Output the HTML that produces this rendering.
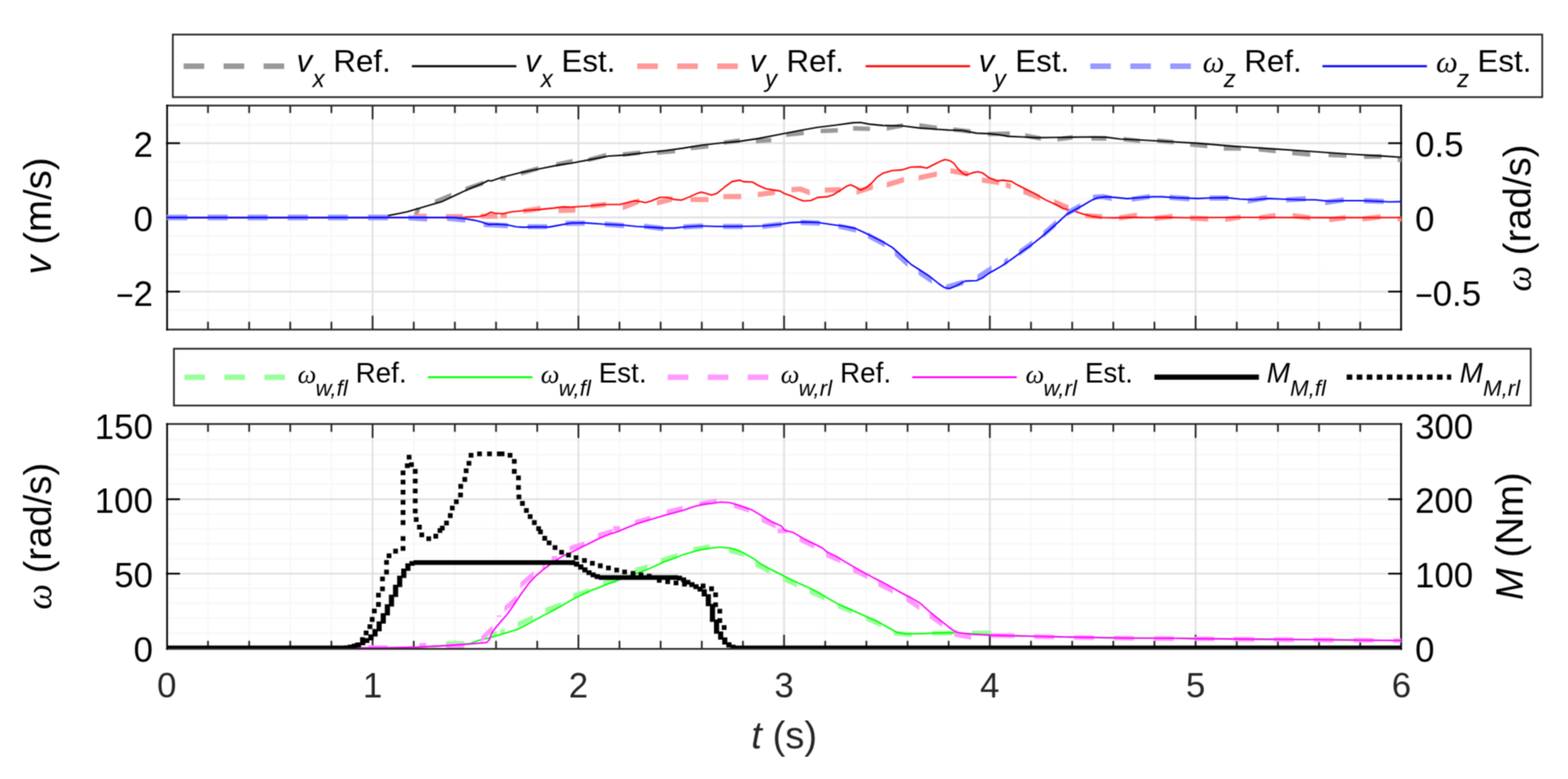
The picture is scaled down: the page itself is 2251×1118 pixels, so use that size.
<!DOCTYPE html>
<html lang="en"><head><meta charset="utf-8"><title>Vehicle state estimation plot</title>
<style>html,body{margin:0;padding:0;background:#fff;overflow:hidden}svg{display:block}text{font-family:"Liberation Sans",Arial,Helvetica,sans-serif;white-space:pre}.i{font-style:italic}.w{font-family:"Liberation Serif","DejaVu Serif",serif;font-style:italic}</style></head><body>
<svg xmlns="http://www.w3.org/2000/svg" width="2251" height="1118" viewBox="0 0 2251 1118">
<filter id="soft" x="0" y="0" width="2251" height="1118" filterUnits="userSpaceOnUse" color-interpolation-filters="sRGB"><feConvolveMatrix order="3" kernelMatrix="1 2 1 2 4 2 1 2 1" divisor="16" edgeMode="duplicate" preserveAlpha="true"/></filter>
<g filter="url(#soft)">
<rect width="2251" height="1118" fill="#fff"/>
<defs><clipPath id="c1"><rect x="239.5" y="152.2" width="1772.3" height="319.7"/></clipPath><clipPath id="c2"><rect x="239.5" y="609.6" width="1772.3" height="320.4"/></clipPath></defs>
<path d="M298.6 151.6V473M357.7 151.6V473M416.7 151.6V473M475.8 151.6V473M594 151.6V473M653 151.6V473M712.1 151.6V473M771.2 151.6V473M889.3 151.6V473M948.4 151.6V473M1007.5 151.6V473M1066.6 151.6V473M1184.7 151.6V473M1243.8 151.6V473M1302.9 151.6V473M1361.9 151.6V473M1480.1 151.6V473M1539.2 151.6V473M1598.2 151.6V473M1657.3 151.6V473M1775.5 151.6V473M1834.6 151.6V473M1893.6 151.6V473M1952.7 151.6V473M239.9 178.9H2011.4M239.9 232.1H2011.4M239.9 258.8H2011.4M239.9 285.4H2011.4M239.9 338.7H2011.4M239.9 365.3H2011.4M239.9 392H2011.4M239.9 445.2H2011.4" stroke="#f8f8f8" stroke-width="2.5" fill="none"/>
<path d="M534.9 151.6V473M830.3 151.6V473M1125.6 151.6V473M1421 151.6V473M1716.4 151.6V473M239.9 205.5H2011.4M239.9 312.1H2011.4M239.9 418.6H2011.4" stroke="#e0e0e0" stroke-width="2.5" fill="none"/>
<path d="M298.6 152.2v8.9M298.6 471.9v-8.9M357.7 152.2v8.9M357.7 471.9v-8.9M416.7 152.2v8.9M416.7 471.9v-8.9M475.8 152.2v8.9M475.8 471.9v-8.9M534.9 152.2v17.7M534.9 471.9v-17.7M594 152.2v8.9M594 471.9v-8.9M653 152.2v8.9M653 471.9v-8.9M712.1 152.2v8.9M712.1 471.9v-8.9M771.2 152.2v8.9M771.2 471.9v-8.9M830.3 152.2v17.7M830.3 471.9v-17.7M889.3 152.2v8.9M889.3 471.9v-8.9M948.4 152.2v8.9M948.4 471.9v-8.9M1007.5 152.2v8.9M1007.5 471.9v-8.9M1066.6 152.2v8.9M1066.6 471.9v-8.9M1125.6 152.2v17.7M1125.6 471.9v-17.7M1184.7 152.2v8.9M1184.7 471.9v-8.9M1243.8 152.2v8.9M1243.8 471.9v-8.9M1302.9 152.2v8.9M1302.9 471.9v-8.9M1361.9 152.2v8.9M1361.9 471.9v-8.9M1421 152.2v17.7M1421 471.9v-17.7M1480.1 152.2v8.9M1480.1 471.9v-8.9M1539.2 152.2v8.9M1539.2 471.9v-8.9M1598.2 152.2v8.9M1598.2 471.9v-8.9M1657.3 152.2v8.9M1657.3 471.9v-8.9M1716.4 152.2v17.7M1716.4 471.9v-17.7M1775.5 152.2v8.9M1775.5 471.9v-8.9M1834.6 152.2v8.9M1834.6 471.9v-8.9M1893.6 152.2v8.9M1893.6 471.9v-8.9M1952.7 152.2v8.9M1952.7 471.9v-8.9" stroke="#262626" stroke-width="2.5" fill="none" stroke-linecap="square"/>
<path d="M239.9 151.6H2011.4M239.9 473H2011.4" stroke="#262626" stroke-width="2.5" fill="none" stroke-linecap="square"/>
<path d="M239.9 151.6V473M2011.4 151.6V473M239.5 205.5h17.7M2011.8 205.5h-17.7M239.5 418.6h17.7M2011.8 418.6h-17.7" stroke="#000" stroke-width="2.5" fill="none" stroke-linecap="square"/>
<g clip-path="url(#c1)">
<path d="M593.3 310L597.8 298L604.2 298L599.7 310ZM624.2 286.5L647.8 276.8L647.8 283.8L624.2 293.5ZM668 268.3L693.8 259.2L693.8 266L668 275.1ZM718.5 252.9L726 252.9L726 259.3L718.5 259.3ZM748 245.4L772.7 238.4L772.7 245L748 252ZM798.4 233L822 227.9L822 234.5L798.4 239.6ZM844.5 226.2L870.2 219.5L870.2 226.1L844.5 232.8ZM894.1 218.6L919.3 215.9L919.3 222.3L894.1 225ZM943.2 215.9L969.2 213.7L969.2 220.1L943.2 222.3ZM991.7 209.4L1017 206.7L1017 213.1L991.7 215.8ZM1039 201.4L1062 198.5L1062 204.9L1039 207.8ZM1085.2 199.4L1107.2 197.8L1107.2 204.2L1085.2 205.8ZM1128.7 190.2L1153.9 187.6L1153.9 194L1128.7 196.6ZM1178.1 184.9L1202.7 183.8L1202.7 190.2L1178.1 191.3ZM1224.8 181.1L1248.9 181.7L1248.9 188.1L1224.8 187.5ZM1273 181L1296.1 176.7L1296.1 183.3L1273 187.6ZM1319.9 176.8L1345.1 180.6L1345.1 187L1319.9 183.2ZM1368.7 182.7L1393.4 185.6L1393.4 192L1368.7 189.1ZM1418.1 189.2L1449.7 188.6L1449.7 195L1418.1 195.6ZM1471.7 191.2L1494.3 195.5L1494.3 202.1L1471.7 197.8ZM1517.9 196.7L1540 193.8L1540 200.2L1517.9 203.1ZM1566.8 195.3L1588.4 195.6L1588.4 202L1566.8 201.7ZM1613 196.5L1636.6 199.2L1636.6 205.6L1613 202.9ZM1661.3 198.6L1684.9 200.8L1684.9 207.2L1661.3 205ZM1708.5 204L1733.2 206.3L1733.2 212.7L1708.5 210.4ZM1756.8 209.8L1781.5 209.8L1781.5 216.2L1756.8 216.2ZM1806.8 211L1831.5 213.7L1831.5 220.1L1806.8 217.4ZM1855.1 216.3L1880.9 218.5L1880.9 224.9L1855.1 222.7ZM1907.2 219L1933 220.1L1933 226.5L1907.2 225.4ZM1958.2 221.7L1983.4 221.3L1983.4 227.7L1958.2 228.1ZM2006.5 226L2011.8 226.3L2011.8 232.7L2006.5 232.4Z" fill="#999"/>
<polyline points="239.5,312.1 535,312.1 548,311.2 557.6,309.4 571,306.7 584.4,304 600.5,299.3 616.6,294.6 634,289.6 654.2,280 674.3,270.6 691.7,263.7 701.1,259 705.2,259.8 721.3,254.3 748.1,247.6 774.9,242.3 801.8,236.9 820,234.3 846.8,229.1 873.7,224 900.5,222.4 927.3,219 954.2,216.2 981,212.6 1007.8,208.3 1034.7,205.2 1061.5,202.9 1088.3,198.9 1120,192.7 1146.8,187.5 1173.7,182.8 1200.5,179.5 1224.7,176.1 1235.4,175.8 1247.5,178.1 1267.6,180.1 1294.4,180.5 1321.3,183.9 1348.1,185.8 1361.5,186.6 1381.6,187.2 1401.8,191.1 1420,191.9 1433.4,193.3 1446.8,195.6 1467,196.5 1487.1,197.6 1513.9,197.3 1540.8,196.9 1567.6,196.5 1587.7,196.9 1607.8,199.5 1634.7,200.8 1661.5,202.2 1688.3,203.7 1720,205.6 1773.7,210.1 1827.3,213.6 1881,217.3 1934.7,221 1988.3,224.1 2011.8,225.8" stroke="#000" stroke-width="2.1" fill="none" stroke-linejoin="round" />
<path d="M594 306.7L612.7 306.7L612.7 314.1L594 314.1ZM640.1 307.2L664.3 307.2L664.3 314.6L640.1 314.6ZM690.5 306.6L714.2 306.6L714.2 314L690.5 314ZM718.5 305.9L727.6 305.9L727.6 313.3L718.5 313.3ZM751.2 299.2L775.9 295.4L775.9 302.8L751.2 306.6ZM801.6 298.3L826 297.8L826 305.2L801.6 305.7ZM848.1 291.9L869.9 289.7L869.9 297.1L848.1 299.3ZM894.1 293.7L917.7 284.6L917.7 292.6L894.1 301.7ZM943.2 287.5L965.4 281.6L965.4 289.2L943.2 295.1ZM991.2 282.7L1017 282.7L1017 290.1L991.2 290.1ZM1038.4 278.4L1064 278.3L1064 285.7L1038.4 285.8ZM1087.9 275.6L1112.6 272.4L1112.6 279.8L1087.9 283ZM1136.2 268.6L1149.1 267.6L1149.1 275L1136.2 276ZM1149.1 267.3L1162.5 272.6L1162.5 280.6L1149.1 275.3ZM1184 269.2L1207 268.6L1207 276L1184 276.6ZM1229.6 271.7L1253.2 264.1L1253.2 271.9L1229.6 279.5ZM1273 261.5L1297.7 253.9L1297.7 261.7L1273 269.3ZM1318.8 251.4L1345.1 246L1345.1 253.6L1318.8 259ZM1364.4 241.2L1390.2 246L1390.2 253.6L1364.4 248.8ZM1409.5 254.7L1434.2 258.4L1434.2 265.8L1409.5 262.1ZM1443.8 261.6L1451.3 263.7L1451.3 271.3L1443.8 269.2ZM1469 270.5L1493.2 280.1L1493.2 288.1L1469 278.5ZM1513.3 285.8L1534 294.5L1534 302.5L1513.3 293.8ZM1558.2 305.8L1582.4 307.4L1582.4 314.8L1558.2 313.2ZM1606.5 309L1632.3 305.2L1632.3 312.6L1606.5 316.4ZM1657.5 309.5L1683.3 306.9L1683.3 314.3L1657.5 316.9ZM1708.5 309L1734.3 310.6L1734.3 318L1708.5 316.4ZM1759 311.1L1781 307.9L1781 315.3L1759 318.5ZM1807.4 309L1831 305.8L1831 313.2L1807.4 316.4ZM1855.7 305.8L1880.9 309L1880.9 316.4L1855.7 313.2ZM1908.3 311.7L1931.9 308.5L1931.9 315.9L1908.3 319.1ZM1956 310.6L1981.8 307.4L1981.8 314.8L1956 318ZM2006.5 310.6L2011.8 310.6L2011.8 318L2006.5 318Z" fill="#f99"/>
<polyline points="239.5,312.1 640,312.1 667.6,311.6 687.7,310.7 697.1,308.7 704.5,304.4 710.5,306 721.3,306.7 734.7,304 754.8,302 774.9,300.6 795,298.6 808.5,296.9 820,297.2 846.8,295.5 867,293.5 889.8,293.5 900.5,290.8 911.2,288.1 920.6,289.5 926.7,290.8 934,288.8 947.5,283.2 958.2,283.2 968.9,286.4 978.3,287.2 987.7,283.4 999.8,278.1 1006.5,275.7 1014.6,277.8 1021.3,280.1 1029.3,277.4 1040,268.7 1050.8,260.6 1061.5,258.6 1068.2,260.9 1080.3,261.3 1088.3,266 1099.1,270.7 1108.5,272.4 1120,274.1 1126.7,278.1 1137.4,281.8 1146.8,286.1 1153.5,288.5 1164.3,287.7 1173.7,283.4 1187.1,282.4 1196.5,279.4 1207.2,272.7 1215.3,267.3 1221.3,265.3 1227.3,268 1235.4,272.7 1243.4,269.4 1251.5,262.6 1259.5,253.9 1267.6,248.6 1281,244.8 1294.4,243.9 1307.8,239.8 1321.3,239.4 1330.7,241.2 1341.4,235.8 1350.8,231.1 1356.8,229.1 1364.2,230.8 1369.6,234.5 1374.9,241.8 1381.6,248.6 1387,251.2 1396.4,247.9 1404.4,246.5 1411.2,248.6 1420,255.3 1432.1,259.6 1440.1,258.6 1452.2,260.4 1460.3,265.3 1473.7,272 1487.1,278.6 1500.5,286.6 1513.9,292.8 1527.3,299.7 1540.8,302.5 1554.2,306.9 1567.6,310.6 1581,312.2 1601.1,312.6 1621.3,311.9 1648.1,312.2 1674.9,311.9 1701.8,312.5 1720,312.2 1800,312 1900,312.4 2011.8,312.3" stroke="#f00" stroke-width="2.1" fill="none" stroke-linejoin="round" />
<path d="M239.5 307.9L269.2 307.9L269.2 316.2L239.5 316.2ZM298 307.9L326.9 307.9L326.9 316.2L298 316.2ZM355.5 307.9L384.3 307.9L384.3 316.2L355.5 316.2ZM413.1 307.9L442 307.9L442 316.2L413.1 316.2ZM470.8 307.9L499.4 307.9L499.4 316.2L470.8 316.2ZM528.3 307.9L556.9 307.9L556.9 316.2L528.3 316.2ZM586.4 308.9L613.3 310.5L613.3 317.9L586.4 316.3ZM641.7 309.5L668 312L668 319.4L641.7 316.9ZM694.3 318.4L729.2 320.3L729.2 327.7L694.3 325.8ZM757.6 321.7L785.5 321.7L785.5 329.1L757.6 329.1ZM811.8 316.8L839.5 316.6L839.5 324L811.8 324.2ZM868.3 318L895.8 320L895.8 327.4L868.3 325.4ZM924.7 321L952.2 324.3L952.2 331.7L924.7 328.4ZM981 322L1009.2 320.6L1009.2 328L981 329.4ZM1038 321.3L1066.2 321.3L1066.2 328.7L1038 328.7ZM1094.4 321.3L1122 318.1L1122 325.5L1094.4 328.7ZM1149.5 315.6L1177 316.6L1177 324L1149.5 323ZM1203.6 320.7L1228.8 326.1L1228.8 333.7L1203.6 328.3ZM1246 333.5L1270.2 346.4L1270.2 354.8L1246 341.9ZM1284.6 356.9L1302.9 373.5L1302.9 383.5L1284.6 366.9ZM1318.5 385.3L1337.8 398.2L1337.8 407.2L1318.5 394.3ZM1358.2 408.5L1382.9 401.6L1382.9 409.2L1358.2 416.1ZM1403.2 394L1423.4 381L1423.4 389.8L1403.2 402.8ZM1441.5 372.9L1446.8 368.9L1446.8 378.1L1441.5 382.1ZM1462.9 358.4L1481.7 344.9L1481.7 354.1L1462.9 367.6ZM1497.8 331.5L1515.9 315.6L1515.9 325.4L1497.8 341.3ZM1531.4 302L1550.8 291.5L1550.8 299.9L1531.4 310.4ZM1569 279.5L1582.9 278.4L1582.9 285.8L1569 286.9ZM1582.9 278.3L1595.8 281L1595.8 288.6L1582.9 285.9ZM1624.8 282.2L1650.6 278.4L1650.6 285.8L1624.8 289.6ZM1679 279.5L1707.4 281.6L1707.4 289L1679 286.9ZM1736.4 280.6L1763.8 280.6L1763.8 288L1736.4 288ZM1791.3 284.7L1818.6 279.9L1818.6 287.5L1791.3 292.3ZM1846.5 283.2L1874.5 281.6L1874.5 289L1846.5 290.6ZM1902.4 287L1929.2 283.2L1929.2 290.6L1902.4 294.4ZM1958.2 284.3L1986.6 285.4L1986.6 292.8L1958.2 291.7Z" fill="#99f"/>
<polyline points="239.5,312.1 640.8,312.1 654.2,312.4 667.6,314 681,316.1 691.7,318.7 701.1,322.1 714.6,321.8 728,322.8 741.4,325.5 750.8,326.1 768.2,325.5 788.4,325.9 801.8,323.4 820,320 840.1,319.9 867,321.7 893.8,323 913.9,325 934,326.1 954.2,327.4 967.6,327.4 987.7,325.3 1007.8,324.3 1028,325 1048.1,325 1074.9,324.7 1095,324.3 1108.5,323 1120,322 1133.4,319.6 1153.5,318.6 1173.7,319.3 1193.8,322.3 1213.9,325 1227.3,327.6 1240.8,333.7 1254.2,340.4 1267.6,347.1 1281,355.1 1294.4,367.2 1307.8,379.3 1321.3,388 1334.7,396.7 1348.1,407.5 1356.1,412.8 1362.9,414.2 1372.2,410.4 1385.7,403.4 1401.8,402.8 1409.8,399.4 1420,392 1437.4,382.2 1453.5,371.2 1467,361.2 1480.4,351.8 1493.8,341.1 1507.2,329.6 1520.6,317.6 1531.4,307.5 1540.8,302.5 1554.2,295 1567.6,287.2 1575.6,283.8 1587.7,282.4 1601.1,283.4 1618.6,285.1 1634.7,283.7 1654.8,282.4 1668.2,282.4 1688.3,283.7 1720,284.9 1740.1,284 1760.3,283.6 1780.4,285.7 1800.5,286.7 1820.6,284.9 1840.8,285.7 1867.6,286.7 1887.7,286.7 1907.8,288.7 1928,288 1954.8,288 1974.9,288.7 1995,289.8 2011.8,289.4" stroke="#00f" stroke-width="2.1" fill="none" stroke-linejoin="round" />
</g>
<path d="M298.6 608.4V931.2M357.7 608.4V931.2M416.7 608.4V931.2M475.8 608.4V931.2M594 608.4V931.2M653 608.4V931.2M712.1 608.4V931.2M771.2 608.4V931.2M889.3 608.4V931.2M948.4 608.4V931.2M1007.5 608.4V931.2M1066.6 608.4V931.2M1184.7 608.4V931.2M1243.8 608.4V931.2M1302.9 608.4V931.2M1361.9 608.4V931.2M1480.1 608.4V931.2M1539.2 608.4V931.2M1598.2 608.4V931.2M1657.3 608.4V931.2M1775.5 608.4V931.2M1834.6 608.4V931.2M1893.6 608.4V931.2M1952.7 608.4V931.2M239.9 908.6H2011.4M239.9 887.3H2011.4M239.9 865.9H2011.4M239.9 844.6H2011.4M239.9 801.8H2011.4M239.9 780.5H2011.4M239.9 759.1H2011.4M239.9 737.8H2011.4M239.9 695H2011.4M239.9 673.7H2011.4M239.9 652.3H2011.4M239.9 631H2011.4" stroke="#f8f8f8" stroke-width="2.5" fill="none"/>
<path d="M534.9 608.4V931.2M830.3 608.4V931.2M1125.6 608.4V931.2M1421 608.4V931.2M1716.4 608.4V931.2M239.9 823.2H2011.4M239.9 716.4H2011.4" stroke="#e0e0e0" stroke-width="2.5" fill="none"/>
<path d="M298.6 609.6v8.9M298.6 930v-8.9M357.7 609.6v8.9M357.7 930v-8.9M416.7 609.6v8.9M416.7 930v-8.9M475.8 609.6v8.9M475.8 930v-8.9M534.9 609.6v17.7M534.9 930v-17.7M594 609.6v8.9M594 930v-8.9M653 609.6v8.9M653 930v-8.9M712.1 609.6v8.9M712.1 930v-8.9M771.2 609.6v8.9M771.2 930v-8.9M830.3 609.6v17.7M830.3 930v-17.7M889.3 609.6v8.9M889.3 930v-8.9M948.4 609.6v8.9M948.4 930v-8.9M1007.5 609.6v8.9M1007.5 930v-8.9M1066.6 609.6v8.9M1066.6 930v-8.9M1125.6 609.6v17.7M1125.6 930v-17.7M1184.7 609.6v8.9M1184.7 930v-8.9M1243.8 609.6v8.9M1243.8 930v-8.9M1302.9 609.6v8.9M1302.9 930v-8.9M1361.9 609.6v8.9M1361.9 930v-8.9M1421 609.6v17.7M1421 930v-17.7M1480.1 609.6v8.9M1480.1 930v-8.9M1539.2 609.6v8.9M1539.2 930v-8.9M1598.2 609.6v8.9M1598.2 930v-8.9M1657.3 609.6v8.9M1657.3 930v-8.9M1716.4 609.6v17.7M1716.4 930v-17.7M1775.5 609.6v8.9M1775.5 930v-8.9M1834.6 609.6v8.9M1834.6 930v-8.9M1893.6 609.6v8.9M1893.6 930v-8.9M1952.7 609.6v8.9M1952.7 930v-8.9" stroke="#262626" stroke-width="2.5" fill="none" stroke-linecap="square"/>
<path d="M239.9 608.4H2011.4M239.9 931.2H2011.4" stroke="#262626" stroke-width="2.5" fill="none" stroke-linecap="square"/>
<path d="M239.9 608.4V931.2M2011.4 608.4V931.2M239.5 823.2h17.7M2011.8 823.2h-17.7M239.5 716.4h17.7M2011.8 716.4h-17.7" stroke="#000" stroke-width="2.5" fill="none" stroke-linecap="square"/>
<g clip-path="url(#c2)">
<path d="M640.3 919.9L666.5 919.9L666.5 926.5L640.3 926.5ZM706.8 907L713.5 906L713.5 912.6L706.8 913.6ZM718.2 903.6L724.9 902.4L724.9 909.2L718.2 910.4ZM743 892.8L765.1 882.7L765.1 889.9L743 900ZM782.7 872.4L805.5 864.3L805.5 871.3L782.7 879.4ZM822.9 851.6L845.7 844.2L845.7 851.2L822.9 858.6ZM865.9 833.6L884.7 829.2L884.7 836L865.9 840.4ZM911.5 814.8L929.6 810.1L929.6 816.9L911.5 821.6ZM948.4 801.3L972.5 793.4L972.5 800.4L948.4 808.3ZM995.3 785.3L1018.8 781.2L1018.8 787.8L995.3 791.9ZM1046.3 786.5L1067.8 792.5L1067.8 799.3L1046.3 793.3ZM1084 805.6L1104.8 816.3L1104.8 823.7L1084 813ZM1123.6 826.5L1143.7 835.9L1143.7 843.1L1123.6 833.7ZM1162.2 844.5L1183.4 854.6L1183.4 862L1162.2 851.9ZM1202.9 866.3L1223.1 873.7L1223.1 880.7L1202.9 873.3ZM1243.2 883.6L1264.7 893L1264.7 900.2L1243.2 890.8ZM1282.8 905.4L1308.9 907.4L1308.9 914L1282.8 912ZM1338.5 905.4L1367.3 905.4L1367.3 912L1338.5 912ZM1395.5 905.1L1423 905.1L1423 911.7L1395.5 911.7Z" fill="#9f9"/>
<polyline points="239.5,930 514.9,929.8 560.5,929.6 600.7,928.6 641,926.6 662,925 675.9,923.2 686.6,919.2 701.4,915.8 714.8,911.8 728.2,907.8 741.6,903.7 755.1,897 768.5,889.7 780,883.4 793.4,876.5 806.8,869.2 820.3,861.1 833.7,854.4 847.1,848 860.5,842.9 873.9,837.6 887.3,832.7 900.8,827.5 914.2,822.8 927.6,818.1 941,812 954.4,806 967.8,801.3 981.3,795.9 994.7,791.9 1008.1,788.6 1021.5,786.5 1032.2,785.2 1048.3,786.5 1061.8,790.6 1080,800.6 1093.4,810 1106.8,817.3 1125.6,826.7 1140.4,834.1 1153.8,840.3 1160,842.9 1173.4,849.4 1186.8,857.7 1202.9,866.8 1220.4,874.5 1240.5,883.5 1260.6,892.3 1274,900 1287.5,907.6 1300.9,909.8 1321,909.4 1347.8,908.4 1368,908 1388.1,909.4 1408.2,910.6 1421.6,911 1486.6,913.3 1553.3,914.6 1620,915.7 1686.6,916 1720,916.6 1860,917.8 2011.4,919.2" stroke="#0f0" stroke-width="2.1" fill="none" stroke-linejoin="round" />
<path d="M528.3 925.9L556.5 925.9L556.5 932.5L528.3 932.5ZM602 922.7L612 922.7L612 929.3L602 929.3ZM640.3 923.9L666.5 923.2L666.5 929.8L640.3 930.5ZM690.7 913.3L706.8 897.2L706.8 906.2L690.7 922.3ZM712.7 885.3L713.7 883.3L720.3 883.3L719.3 885.3ZM724.2 869.8L741.6 854.4L741.6 863.2L724.2 878.6ZM747 835.7L765.8 819.6L765.8 828.2L747 844.3ZM779 810L782 808L782 816L779 818ZM792 798L800 798L800 804.6L792 804.6ZM817.6 783.7L839 777L839 784L817.6 790.7ZM858.5 765L879.3 759L879.3 765.8L858.5 771.8ZM880.6 755.1L890 755.1L890 761.7L880.6 761.7ZM911.5 746.2L933.6 740.2L933.6 747L911.5 753ZM957.1 731.5L979.9 726.1L979.9 732.9L957.1 738.3ZM1004 720.1L1028.9 715.4L1028.9 722.2L1004 726.9ZM1053.7 722L1075.2 728.7L1075.2 735.7L1053.7 729ZM1093.4 742L1113.5 751.3L1113.5 758.5L1093.4 749.2ZM1116.2 758.7L1129.6 758.7L1129.6 765.3L1116.2 765.3ZM1147.8 770L1168.6 780.1L1168.6 787.5L1147.8 777.4ZM1186 792.3L1206.1 801L1206.1 808.2L1186 799.5ZM1224.6 813.7L1245.1 823.8L1245.1 831.2L1224.6 821.1ZM1260.8 834.1L1281.6 844.5L1281.6 851.9L1260.8 841.5ZM1300.9 855L1319.7 867.8L1319.7 875.8L1300.9 863ZM1334.4 879.2L1352.5 891.9L1352.5 899.9L1334.4 887.2ZM1370 907.4L1394.1 911.4L1394.1 918L1370 914ZM1421.8 908.7L1456.3 909.1L1456.3 915.7L1421.8 915.3ZM1484.6 910.3L1513.3 910.9L1513.3 917.5L1484.6 916.9ZM1542 911.7L1570.6 912.1L1570.6 918.7L1542 918.3ZM1599.3 912.5L1627.9 912.8L1627.9 919.4L1599.3 919.1ZM1656.6 913.1L1685.2 913.3L1685.2 919.9L1656.6 919.7ZM1714.5 913.5L1742.9 913.7L1742.9 920.3L1714.5 920.1ZM1771.3 914L1800.6 914.3L1800.6 920.9L1771.3 920.6ZM1828.6 914.5L1857.3 914.8L1857.3 921.4L1828.6 921.1ZM1885.9 915L1914.6 915.3L1914.6 921.9L1885.9 921.6ZM1943.2 915.5L1971.9 915.7L1971.9 922.3L1943.2 922.1ZM2000.5 915.9L2011.4 916L2011.4 922.6L2000.5 922.5Z" fill="#f9f"/>
<polyline points="239.5,930 514.9,929.8 560.5,929.6 600.7,928.6 641,926.6 674.5,924.3 698.7,922.1 702.7,917.8 705.4,909.8 710.8,901.7 718.8,892.3 728.2,881.6 737.6,868.2 748.3,852.1 759.1,837.3 768.5,827.3 780,817.3 793.4,807.3 806.8,798.6 820.3,792.6 833.7,785.9 847.1,779.2 860.5,772.5 873.9,767.1 887.3,762.8 900.8,757 914.2,751.7 927.6,747.6 941,743.6 954.4,739.6 967.8,736 981.3,732.2 994.7,727.5 1008.1,723.9 1021.5,722.5 1034.9,720.5 1048.3,721.5 1061.8,725.5 1080,732.1 1093.4,740.2 1106.8,748.2 1121.6,754.9 1126.3,761 1139,764.3 1153.8,773.1 1167.2,779.8 1180.6,786.5 1187.3,792.1 1200.8,798.6 1213.7,806.7 1227.1,814.4 1240.5,821.8 1253.9,829.2 1267.3,835.8 1280.8,843.4 1294.2,851 1307.6,857.8 1321,865.7 1334.4,877.8 1347.8,888.6 1361.3,899.3 1369.3,905.3 1376,908 1394.8,910.3 1421.6,911.6 1486.6,913.3 1553.3,914.6 1620,915.7 1686.6,916 1720,916.6 1860,917.8 2011.4,919.2" stroke="#f0f" stroke-width="2.1" fill="none" stroke-linejoin="round" />
<path d="M239.5 926.6H485.2v6.8H239.5zM1064.2 926.6H2014.8v6.8H1064.2zM481.5 926.6H494.8V933.4H481.5zM493.3 926.3H500.7V933.1H493.3zM499.2 925.3H506.6V932.1H499.2zM505.1 923.8H512.5V930.6H505.1zM511 921.9H518.4V928.7H511zM517 919.2H524.4V926H517zM522.9 915.8H530.3V922.7H522.9zM528.8 910.4H536.2V919H528.8zM534.7 902.8H542.1V913.6H534.7zM540.6 891.8H548V906H540.6zM546.5 880H553.9V895H546.5zM552.4 867.3H559.8V883.2H552.4zM558.3 853.6H565.7V870.5H558.3zM564.2 839.2H571.6V856.8H564.2zM570.1 826.3H577.5V842.4H570.1zM576 816.1H583.4V829.5H576zM581.9 808.4H589.3V819.3H581.9zM587.8 805.3H595.2V812.1H587.8zM593.8 803.9H819.7V810.7H593.8zM818.2 804.1H825.6V810.9H818.2zM824.1 806.1H831.5V813.3H824.1zM830.1 810.1H837.5V817.4H830.1zM836 814.2H843.4V821.6H836zM841.9 818.4H849.3V825.3H841.9zM847.8 821.6H855.2V828.4H847.8zM853.7 824.1H861.1V830.9H853.7zM859.6 825.4H973.3V832.2H859.6zM971.8 826.3H979.2V833.1H971.8zM977.7 828.8H985.1V835.6H977.7zM983.7 832.3H991.1V839.1H983.7zM989.6 835.6H997V842.4H989.6zM995.5 838.6H1002.9V845.4H995.5zM1001.4 841.9H1008.8V848.9H1001.4zM1007.3 845.7H1014.7V856H1007.3zM1013.2 852.8H1020.6V870H1013.2zM1019.1 866.8H1026.5V892.4H1019.1zM1025 889.2H1032.4V909.4H1025zM1030.9 906.2H1038.3V918H1030.9zM1036.8 914.8H1044.2V925H1036.8zM1042.7 921.8H1050.1V929.3H1042.7zM1048.6 925.3H1056V932.1H1048.6zM1054.5 926.4H1061.9V933.2H1054.5zM1060.5 926.6H1067.9V933.4H1060.5z" fill="#000"/>
<path d="M509.5 922.5h6.8v6.8h-6.8zM516.9 914.4h6.8v6.8h-6.8zM522.2 905h6.8v6.8h-6.8zM527.6 895.9h6.8v6.8h-6.8zM530.9 885.6h6.8v6.8h-6.8zM534 873.5h6.8v6.8h-6.8zM539.9 864.1h6.8v6.8h-6.8zM539.9 850.7h6.8v6.8h-6.8zM545.7 841.7h6.8v6.8h-6.8zM545.7 827.5h6.8v6.8h-6.8zM551.5 817.6h6.8v6.8h-6.8zM551.5 803.7h6.8v6.8h-6.8zM555.1 794.3h6.8v6.8h-6.8zM564.5 787.6h6.8v6.8h-6.8zM575.2 783.8h6.8v6.8h-6.8zM575.2 769.4h6.8v6.8h-6.8zM575.2 746.6h6.8v6.8h-6.8zM575.2 732.1h6.8v6.8h-6.8zM575.2 717.5h6.8v6.8h-6.8zM575.2 703h6.8v6.8h-6.8zM575.2 688.5h6.8v6.8h-6.8zM575.2 675.2h6.8v6.8h-6.8zM581.3 665h6.8v6.8h-6.8zM587.3 663.4h6.8v6.8h-6.8zM583.9 652.7h6.8v6.8h-6.8zM592.7 673.1h6.8v6.8h-6.8zM592.7 686.9h6.8v6.8h-6.8zM592.7 701.3h6.8v6.8h-6.8zM592.7 715.5h6.8v6.8h-6.8zM592.7 729.9h6.8v6.8h-6.8zM594.1 742.3h6.8v6.8h-6.8zM598.7 753.1h6.8v6.8h-6.8zM602.1 764.3h6.8v6.8h-6.8zM612.1 769.7h6.8v6.8h-6.8zM622.2 766.1h6.8v6.8h-6.8zM628.2 758h6.8v6.8h-6.8zM631.6 754.4h6.8v6.8h-6.8zM637.6 747.3h6.8v6.8h-6.8zM643 736.6h6.8v6.8h-6.8zM645.9 725.8h6.8v6.8h-6.8zM651.7 716.8h6.8v6.8h-6.8zM657.7 707h6.8v6.8h-6.8zM658 694.6h6.8v6.8h-6.8zM663.8 684.6h6.8v6.8h-6.8zM665.8 672.2h6.8v6.8h-6.8zM669.8 661.4h6.8v6.8h-6.8zM672.8 650h6.8v6.8h-6.8zM685 648h6.8v6.8h-6.8zM699.3 648h6.8v6.8h-6.8zM713.4 648h6.8v6.8h-6.8zM717.4 648h6.8v6.8h-6.8zM728.8 650h6.8v6.8h-6.8zM734.9 658.7h6.8v6.8h-6.8zM734.9 673.1h6.8v6.8h-6.8zM740.9 682.5h6.8v6.8h-6.8zM740.9 696.3h6.8v6.8h-6.8zM741.6 709.7h6.8v6.8h-6.8zM746.6 719.1h6.8v6.8h-6.8zM752.3 729.2h6.8v6.8h-6.8zM757.7 737.9h6.8v6.8h-6.8zM763.7 746.6h6.8v6.8h-6.8zM769.8 755.3h6.8v6.8h-6.8zM772.5 760h6.8v6.8h-6.8zM778.6 769.1h6.8v6.8h-6.8zM784.9 775.8h6.8v6.8h-6.8zM793.4 782.5h6.8v6.8h-6.8zM802.8 789.2h6.8v6.8h-6.8zM812.8 793.2h6.8v6.8h-6.8zM823.6 797h6.8v6.8h-6.8zM835.6 801h6.8v6.8h-6.8zM847 805h6.8v6.8h-6.8zM858.4 808.6h6.8v6.8h-6.8zM870.1 811.7h6.8v6.8h-6.8zM881.9 814.7h6.8v6.8h-6.8zM893.3 817.4h6.8v6.8h-6.8zM905.4 819.4h6.8v6.8h-6.8zM916.8 821.4h6.8v6.8h-6.8zM928.6 823.6h6.8v6.8h-6.8zM943 829.4h6.8v6.8h-6.8zM955.1 831.5h6.8v6.8h-6.8zM967.1 833.2h6.8v6.8h-6.8zM979.2 834.9h6.8v6.8h-6.8zM1006 837.6h6.8v6.8h-6.8zM1018.1 841.6h6.8v6.8h-6.8zM1023.9 850.3h6.8v6.8h-6.8zM1023.9 864.4h6.8v6.8h-6.8zM1029.9 873.8h6.8v6.8h-6.8zM1029.9 887.2h6.8v6.8h-6.8zM1036.2 897.3h6.8v6.8h-6.8z" fill="#000"/>
</g>
<rect x="248.1" y="49.6" width="1965.9" height="89.8" fill="#fff" stroke="#262626" stroke-width="2.5"/>
<path d="M263.6 95h150" stroke="#999" stroke-width="7.8" stroke-dasharray="29.6 27.8" fill="none"/>
<text font-size="45"><tspan class="i" x="425.8" y="102.8" font-size="45">v</tspan><tspan class="i" x="448.8" y="124.6" font-size="34.5">x</tspan><tspan x="478.5" y="102.8">Ref.</tspan></text>
<path d="M591.3 95h150" stroke="#000" stroke-width="2.8" fill="none"/>
<text font-size="45"><tspan class="i" x="753.8" y="102.8" font-size="45">v</tspan><tspan class="i" x="776.3" y="124.6" font-size="34.5">x</tspan><tspan x="806" y="102.8">Est.</tspan></text>
<path d="M914.8 95h150" stroke="#f99" stroke-width="7.8" stroke-dasharray="29.6 27.8" fill="none"/>
<text font-size="45"><tspan class="i" x="1076.4" y="102.8" font-size="45">v</tspan><tspan class="i" x="1098.3" y="124.6" font-size="34.5">y</tspan><tspan x="1129" y="102.8">Ref.</tspan></text>
<path d="M1242.6 95h150" stroke="#f00" stroke-width="2.8" fill="none"/>
<text font-size="45"><tspan class="i" x="1405.1" y="102.8" font-size="45">v</tspan><tspan class="i" x="1426.8" y="124.6" font-size="34.5">y</tspan><tspan x="1457.5" y="102.8">Est.</tspan></text>
<path d="M1565.2 95h150" stroke="#99f" stroke-width="7.8" stroke-dasharray="29.6 27.8" fill="none"/>
<text font-size="45"><tspan class="w" x="1726.4" y="103.8" font-size="44.4">ω</tspan><tspan class="i" x="1756.8" y="124.6" font-size="34.5">z</tspan><tspan x="1786.3" y="102.8">Ref.</tspan></text>
<path d="M1898.5 95h150" stroke="#00f" stroke-width="2.8" fill="none"/>
<text font-size="45"><tspan class="w" x="2061.4" y="103.8" font-size="44.4">ω</tspan><tspan class="i" x="2091.8" y="124.6" font-size="34.5">z</tspan><tspan x="2120.9" y="102.8">Est.</tspan></text>
<rect x="249.7" y="500.5" width="1947.8" height="81.5" fill="#fff" stroke="#262626" stroke-width="2.5"/>
<path d="M264.8 541.3h150" stroke="#9f9" stroke-width="7.8" stroke-dasharray="29.6 27.8" fill="none"/>
<text font-size="40"><tspan class="w" x="427.2" y="550" font-size="38">ω</tspan><tspan class="i" x="453" y="568" font-size="32">w,fl</tspan><tspan x="510.4" y="548.7">Ref.</tspan></text>
<path d="M614.3 541.3h150" stroke="#0f0" stroke-width="2.8" fill="none"/>
<text font-size="40"><tspan class="w" x="776.2" y="550" font-size="38">ω</tspan><tspan class="i" x="802" y="568" font-size="32">w,fl</tspan><tspan x="859.4" y="548.7">Est.</tspan></text>
<path d="M958.6 541.3h150" stroke="#f9f" stroke-width="7.8" stroke-dasharray="29.6 27.8" fill="none"/>
<text font-size="40"><tspan class="w" x="1120.7" y="550" font-size="38">ω</tspan><tspan class="i" x="1146.5" y="568" font-size="32">w,rl</tspan><tspan x="1205.9" y="548.7">Ref.</tspan></text>
<path d="M1309.6 541.3h150" stroke="#f0f" stroke-width="2.8" fill="none"/>
<text font-size="40"><tspan class="w" x="1472.2" y="550" font-size="38">ω</tspan><tspan class="i" x="1498" y="568" font-size="32">w,rl</tspan><tspan x="1557.4" y="548.7">Est.</tspan></text>
<path d="M1657.3 541.3h150" stroke="#000" stroke-width="7.6" fill="none"/>
<text font-size="40"><tspan class="i" x="1818.6" y="548.7" font-size="40">M</tspan><tspan class="i" x="1852" y="568" font-size="32">M,fl</tspan></text>
<path d="M1933.3 541.3h150" stroke="#000" stroke-width="7.6" stroke-dasharray="8 6.4" fill="none"/>
<text font-size="40"><tspan class="i" x="2095.6" y="548.7" font-size="40">M</tspan><tspan class="i" x="2129" y="568" font-size="32">M,rl</tspan></text>
<text x="219.5" y="225.4" font-size="50" text-anchor="end" fill="#000">2</text>
<text x="219.5" y="331.9" font-size="50" text-anchor="end" fill="#000">0</text>
<text y="438.5" font-size="50" fill="#000"><tspan x="166.5" dy="2.6" textLength="25.2" lengthAdjust="spacingAndGlyphs">−</tspan><tspan x="191.7" dy="-2.6">2</tspan></text>
<text x="2031.5" y="225.4" font-size="50" text-anchor="start" fill="#000">0.5</text>
<text x="2031.5" y="331.9" font-size="50" text-anchor="start" fill="#000">0</text>
<text y="438.5" font-size="50" fill="#000"><tspan x="2031.5" dy="2.6" textLength="25.2" lengthAdjust="spacingAndGlyphs">−</tspan><tspan x="2056.7" dy="-2.6">0.5</tspan></text>
<text x="219.5" y="629.5" font-size="50" text-anchor="end" fill="#000">150</text>
<text x="219.5" y="736.3" font-size="50" text-anchor="end" fill="#000">100</text>
<text x="219.5" y="843.1" font-size="50" text-anchor="end" fill="#000">50</text>
<text x="219.5" y="949.9" font-size="50" text-anchor="end" fill="#000">0</text>
<text x="2031.5" y="629.5" font-size="50" text-anchor="start" fill="#000">300</text>
<text x="2031.5" y="736.3" font-size="50" text-anchor="start" fill="#000">200</text>
<text x="2031.5" y="843.1" font-size="50" text-anchor="start" fill="#000">100</text>
<text x="2031.5" y="949.9" font-size="50" text-anchor="start" fill="#000">0</text>
<text x="239.5" y="1001.3" font-size="50" text-anchor="middle" fill="#262626">0</text>
<text x="534.9" y="1001.3" font-size="50" text-anchor="middle" fill="#262626">1</text>
<text x="830.3" y="1001.3" font-size="50" text-anchor="middle" fill="#262626">2</text>
<text x="1125.6" y="1001.3" font-size="50" text-anchor="middle" fill="#262626">3</text>
<text x="1421" y="1001.3" font-size="50" text-anchor="middle" fill="#262626">4</text>
<text x="1716.4" y="1001.3" font-size="50" text-anchor="middle" fill="#262626">5</text>
<text x="2011.8" y="1001.3" font-size="50" text-anchor="middle" fill="#262626">6</text>
<text transform="translate(72.5 310) rotate(-90)" font-size="55" text-anchor="middle" fill="#000"><tspan class="i">v</tspan> (m/s)</text>
<text transform="translate(2196.8 313) rotate(-90)" font-size="55" text-anchor="middle" fill="#000"><tspan class="w" font-size="52.2">ω</tspan> (rad/s)</text>
<text transform="translate(73 769.6) rotate(-90)" font-size="55" text-anchor="middle" fill="#000"><tspan class="w" font-size="52.2">ω</tspan> (rad/s)</text>
<text transform="translate(2185.8 769.6) rotate(-90)" font-size="55" text-anchor="middle" fill="#000"><tspan class="i">M</tspan> (Nm)</text>
<text x="1125.8" y="1074" font-size="55" text-anchor="middle" fill="#262626"><tspan class="i">t</tspan> (s)</text>
</g></svg></body></html>
